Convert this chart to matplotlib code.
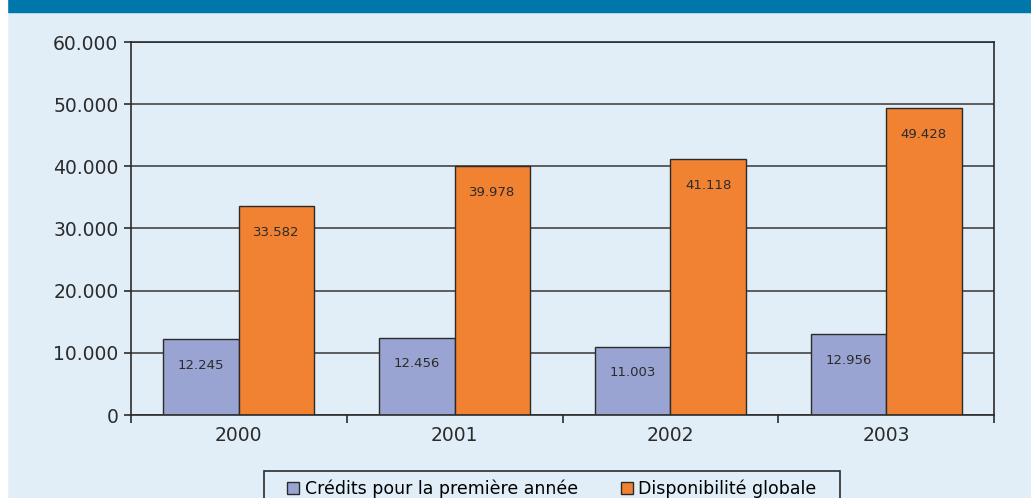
import matplotlib

matplotlib.use("Agg")
import matplotlib.pyplot as plt
import numpy as np
from matplotlib.patches import Rectangle

YEARS = ["2000", "2001", "2002", "2003"]
CREDITS = [12245, 12456, 11003, 12956]
DISPO = [33582, 39978, 41118, 49428]
SERIES_LABELS = ["Crédits pour la première année", "Disponibilité globale"]
YTICKS = [0, 10000, 20000, 30000, 40000, 50000, 60000]

BG = "#e1eef7"
BAND = "#0077ab"
PURPLE = "#9aa4d3"
ORANGE = "#f08232"
DARK = "#2b2b2b"

W, H = 1031, 498


def fmt(v: float) -> str:
    # thousands separator as a dot
    return f"{int(v):,}".replace(",", ".")


def main() -> None:
    plt.rcParams["font.family"] = ["DejaVu Sans"]
    fig = plt.figure(figsize=(W / 100, H / 100), dpi=100, facecolor=BG)
    # top band and left white strip
    fig.patches.append(Rectangle((7 / W, 1 - 12 / H), 1, 12 / H, transform=fig.transFigure,
                                 color=BAND, zorder=0))
    fig.patches.append(Rectangle((0, 0), 7 / W, 1, transform=fig.transFigure, color="white", zorder=0))

    ax = fig.add_axes([131 / W, 1 - 415 / H, (994 - 131) / W, (415 - 42) / H])
    ax.set_facecolor(BG)

    x = np.arange(len(YEARS))
    w = 0.35
    b1 = ax.bar(x - w / 2, CREDITS, w, color=PURPLE, edgecolor=DARK, linewidth=1.0, zorder=3,
                label=SERIES_LABELS[0])
    b2 = ax.bar(x + w / 2, DISPO, w, color=ORANGE, edgecolor=DARK, linewidth=1.0, zorder=3,
                label=SERIES_LABELS[1])

    for bars, vals in [(b1, CREDITS), (b2, DISPO)]:
        for rect, v in zip(bars, vals):
            ax.annotate(fmt(v), (rect.get_x() + rect.get_width() / 2, v), xytext=(0, -19),
                        textcoords="offset points", ha="center", va="center", fontsize=9.5,
                        color=DARK, zorder=4)

    ax.set_ylim(0, 60000)
    ax.set_xlim(-0.5, len(YEARS) - 0.5)
    ax.set_yticks(YTICKS)
    ax.set_yticklabels([fmt(t) for t in YTICKS], fontsize=13.5, color=DARK)
    ax.yaxis.grid(True, color="#444444", linewidth=1.2, zorder=1)
    ax.tick_params(axis="y", length=5, width=1.2, color=DARK, pad=4)

    ax.set_xticks(np.arange(-0.5, len(YEARS)), labels=[""] * (len(YEARS) + 1))
    ax.set_xticks(x, labels=YEARS, minor=True)
    ax.tick_params(axis="x", which="major", length=6, width=1.2, color=DARK)
    ax.tick_params(axis="x", which="minor", length=0, labelsize=13.5, labelcolor=DARK, pad=8)

    for s in ax.spines.values():
        s.set_color(DARK)
        s.set_linewidth(1.2)
        s.set_zorder(5)

    # legend frame runs past the bottom edge, drawn by hand
    fig.patches.append(Rectangle((264 / W, -0.05), (840 - 264) / W, 0.05 + 1 - 471 / H,
                                 transform=fig.transFigure, facecolor="none", edgecolor=DARK,
                                 linewidth=1.2, zorder=2))
    fig.legend(handles=[b1, b2], loc="upper center", bbox_to_anchor=(552 / W, 1 - 473 / H),
               ncol=2, frameon=False, fontsize=12.5, handlelength=0.7, handleheight=0.7,
               handletextpad=0.3, columnspacing=2.5, borderpad=0.4, borderaxespad=0)

    fig.savefig("out.png", dpi=100, facecolor=BG)


if __name__ == "__main__":
    main()
